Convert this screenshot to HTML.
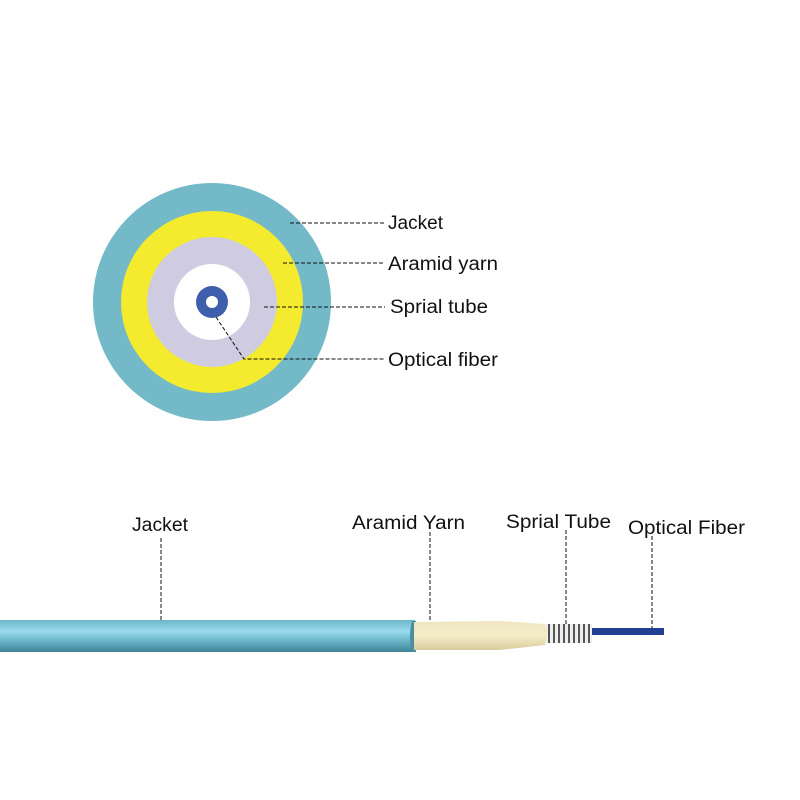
<!DOCTYPE html>
<html><head><style>
html,body{margin:0;padding:0;background:#fff;width:800px;height:800px;overflow:hidden}
text{font-family:"Liberation Sans",sans-serif;fill:#111}
</style></head><body>
<svg width="800" height="800" xmlns="http://www.w3.org/2000/svg">
<defs>
<linearGradient id="jk" x1="0" y1="0" x2="0" y2="1">
<stop offset="0" stop-color="#6cb6ca"/><stop offset="0.35" stop-color="#9adaec"/><stop offset="0.6" stop-color="#72bcd0"/><stop offset="1" stop-color="#3e8296"/></linearGradient>
<linearGradient id="yn" x1="0" y1="0" x2="0" y2="1">
<stop offset="0" stop-color="#efe6c0"/><stop offset="0.5" stop-color="#f5ecc8"/><stop offset="1" stop-color="#d9cc9c"/></linearGradient>
<pattern id="sp" width="5" height="20" patternUnits="userSpaceOnUse">
<rect width="5" height="20" fill="#eee"/><rect x="3" width="2" height="20" fill="#555"/></pattern>
</defs>
<circle cx="212" cy="302" r="119" fill="#73b9c8"/>
<circle cx="212" cy="302" r="91" fill="#f4ea2e"/>
<circle cx="212" cy="302" r="65" fill="#cfcbe1"/>
<circle cx="212" cy="302" r="38" fill="#fff"/>
<circle cx="212" cy="302" r="16" fill="#3f5eab"/>
<circle cx="212" cy="302" r="6" fill="#fff"/>
<g stroke="#111" stroke-width="1" stroke-dasharray="4,2" fill="none">
<line x1="290" y1="223" x2="385" y2="223"/>
<line x1="283" y1="263" x2="385" y2="263"/>
<line x1="264" y1="307" x2="385" y2="307"/>
<polyline points="216,317 244,359 385,359"/>
<line x1="161" y1="538" x2="161" y2="625"/>
<line x1="430" y1="532" x2="430" y2="624"/>
<line x1="566" y1="530" x2="566" y2="630"/>
<line x1="652" y1="536" x2="652" y2="630"/>
</g>
<g font-size="19" lengthAdjust="spacingAndGlyphs">
<text x="388" y="229" font-size="19" textLength="55" lengthAdjust="spacingAndGlyphs">Jacket</text>
<text x="388" y="270" font-size="19" textLength="110" lengthAdjust="spacingAndGlyphs">Aramid yarn</text>
<text x="390" y="313" font-size="19" textLength="98" lengthAdjust="spacingAndGlyphs">Sprial tube</text>
<text x="388" y="366" font-size="19" textLength="110" lengthAdjust="spacingAndGlyphs">Optical fiber</text>
<text x="132" y="531" font-size="19" textLength="56" lengthAdjust="spacingAndGlyphs">Jacket</text>
<text x="352" y="529" font-size="19" textLength="113" lengthAdjust="spacingAndGlyphs">Aramid Yarn</text>
<text x="506" y="528" font-size="19" textLength="105" lengthAdjust="spacingAndGlyphs">Sprial Tube</text>
<text x="628" y="534" font-size="19" textLength="117" lengthAdjust="spacingAndGlyphs">Optical Fiber</text>
</g>
<rect x="0" y="620" width="415" height="32" fill="url(#jk)"/>
<path d="M412,621 Q408,636 412,652 L416,652 L416,621Z" fill="#4b8ea2"/>
<rect x="592" y="628" width="72" height="7" fill="#233f94"/>
<rect x="546" y="624" width="46" height="19" fill="url(#sp)"/>
<path d="M414,622 L500,621 L545,624 L548,632 L545,645 L500,650 L414,650 Z" fill="url(#yn)"/>
</svg>
</body></html>
